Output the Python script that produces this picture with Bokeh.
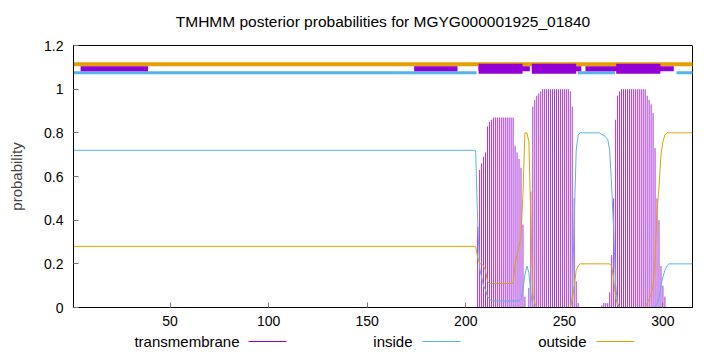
from bokeh.plotting import figure
from bokeh.models import Range1d, FixedTicker, ColumnDataSource, PrintfTickFormatter
from bokeh.core.properties import value
from bokeh.layouts import column
from bokeh.embed import file_html
from bokeh.resources import INLINE

# ---------------- data ----------------
title_text = "TMHMM posterior probabilities for MGYG000001925_01840"
seq_len = 315
x_ticks = [50, 100, 150, 200, 250, 300]
y_ticks = [0, 0.2, 0.4, 0.6, 0.8, 1.0, 1.2]

# residues 1..204 are flat; explicit per-residue values from 205 onward
flat_start = 1
flat_inside = 0.72
flat_outside = 0.28
detail_start = 205

tm_detail = [
    0.00, 0.37, 0.63, 0.66, 0.69, 0.71, 0.83, 0.85, 0.86, 0.87,   # 205-214
    0.87, 0.87, 0.87, 0.87, 0.87, 0.87, 0.87, 0.87, 0.87, 0.87,   # 215-224
    0.74, 0.71, 0.68, 0.64, 0.38, 0.05, 0.00, 0.09, 0.53, 0.92,   # 225-234
    0.95, 0.97, 0.98, 0.99, 1.00, 1.00, 1.00, 1.00, 1.00, 1.00,   # 235-244
    1.00, 1.00, 1.00, 1.00, 1.00, 1.00, 1.00, 1.00, 0.99, 0.92,   # 245-254
    0.50, 0.12, 0.02, 0.00, 0.00, 0.00, 0.00, 0.00, 0.00, 0.00,   # 255-264
    0.00, 0.00, 0.00, 0.00, 0.01, 0.02, 0.02, 0.02, 0.07, 0.24,   # 265-274
    0.50, 0.86, 0.97, 0.99, 1.00, 1.00, 1.00, 1.00, 1.00, 1.00,   # 275-284
    1.00, 1.00, 1.00, 1.00, 1.00, 1.00, 1.00, 0.97, 0.95, 0.93,   # 285-294
    0.89, 0.73, 0.50, 0.40, 0.19, 0.10, 0.05, 0.00, 0.00, 0.00,   # 295-304
    0.00, 0.00, 0.00, 0.00, 0.00, 0.00, 0.00, 0.00, 0.00, 0.00,   # 305-314
    0.00,                                                         # 315
]
inside_detail = [
    0.72, 0.40, 0.18, 0.14, 0.10, 0.08, 0.05, 0.04, 0.03, 0.03,   # 205-214
    0.03, 0.03, 0.03, 0.03, 0.03, 0.03, 0.03, 0.03, 0.03, 0.03,   # 215-224
    0.03, 0.03, 0.03, 0.04, 0.08, 0.15, 0.19, 0.16, 0.06, 0.01,   # 225-234
    0.00, 0.00, 0.00, 0.00, 0.00, 0.00, 0.00, 0.00, 0.00, 0.00,   # 235-244
    0.00, 0.00, 0.00, 0.00, 0.00, 0.00, 0.00, 0.00, 0.00, 0.05,   # 245-254
    0.40, 0.72, 0.79, 0.80, 0.80, 0.80, 0.80, 0.80, 0.80, 0.80,   # 255-264
    0.80, 0.80, 0.80, 0.80, 0.79, 0.79, 0.78, 0.77, 0.72, 0.55,   # 265-274
    0.36, 0.10, 0.02, 0.00, 0.00, 0.00, 0.00, 0.00, 0.00, 0.00,   # 275-284
    0.00, 0.00, 0.00, 0.00, 0.00, 0.00, 0.00, 0.00, 0.00, 0.00,   # 285-294
    0.00, 0.00, 0.02, 0.04, 0.10, 0.14, 0.17, 0.19, 0.20, 0.20,   # 295-304
    0.20, 0.20, 0.20, 0.20, 0.20, 0.20, 0.20, 0.20, 0.20, 0.20,   # 305-314
    0.20,                                                         # 315
]
outside_detail = [
    0.28, 0.23, 0.20, 0.20, 0.19, 0.17, 0.12, 0.11, 0.11, 0.11,   # 205-214
    0.11, 0.11, 0.11, 0.11, 0.11, 0.11, 0.11, 0.11, 0.11, 0.11,   # 215-224
    0.20, 0.24, 0.28, 0.33, 0.52, 0.80, 0.80, 0.76, 0.40, 0.06,   # 225-234
    0.02, 0.00, 0.00, 0.00, 0.00, 0.00, 0.00, 0.00, 0.00, 0.00,   # 235-244
    0.00, 0.00, 0.00, 0.00, 0.00, 0.00, 0.00, 0.00, 0.00, 0.03,   # 245-254
    0.10, 0.17, 0.19, 0.20, 0.20, 0.20, 0.20, 0.20, 0.20, 0.20,   # 255-264
    0.20, 0.20, 0.20, 0.20, 0.20, 0.20, 0.20, 0.20, 0.20, 0.19,   # 265-274
    0.13, 0.05, 0.01, 0.00, 0.00, 0.00, 0.00, 0.00, 0.00, 0.00,   # 275-284
    0.00, 0.00, 0.00, 0.00, 0.00, 0.00, 0.00, 0.02, 0.04, 0.06,   # 285-294
    0.10, 0.22, 0.44, 0.55, 0.70, 0.76, 0.79, 0.80, 0.80, 0.80,   # 295-304
    0.80, 0.80, 0.80, 0.80, 0.80, 0.80, 0.80, 0.80, 0.80, 0.80,   # 305-314
    0.80,                                                         # 315
]

# predicted topology bars drawn above the curves
tm_bar_start = [4.6, 173.8, 206.5, 233.5, 260.7]
tm_bar_end = [38.8, 195.8, 232.5, 258.6, 305.5]
tm_core_start = [206.5, 233.5, 276.3]
tm_core_end = [228.8, 256.0, 298.7]
inside_bar_start = [1, 256.8, 306.9]
inside_bar_end = [205.5, 275.6, 329]
outside_bar_start = [1]
outside_bar_end = [329]
outside_bar_y = 1.114
tm_bar_y = 1.093
inside_bar_y = 1.075

series_names = ["transmembrane", "inside", "outside"]

# ---------------- styling ----------------
FONT = "Liberation Sans"
C_TM = "#9400D3"
C_IN = "#56B4E9"
C_OUT = "#E69F00"
series_colors = [C_TM, C_IN, C_OUT]

W = 720
TITLE_H = 33
MAIN_H = 300
KEY_H = 19
FRAME_LEFT, FRAME_RIGHT_PAD = 73, 28
FRAME_RIGHT = W - FRAME_RIGHT_PAD

residues = list(range(detail_start, detail_start + len(tm_detail)))
line_x = [flat_start] + residues
line_in = [flat_inside] + inside_detail
line_out = [flat_outside] + outside_detail


def strip(h):
    # the column layout aligns this strip's frame with the chart frame,
    # so its x range is expressed in page pixels of that frame
    f = figure(width=W, height=h, x_range=Range1d(FRAME_LEFT, FRAME_RIGHT),
               y_range=Range1d(0, h),
               x_axis_type=None, y_axis_type=None,
               output_backend="svg", toolbar_location=None,
               min_border=0, min_border_left=FRAME_LEFT, min_border_right=FRAME_RIGHT_PAD,
               min_border_top=0, min_border_bottom=0)
    f.grid.visible = False
    f.outline_line_color = None
    f.background_fill_color = "white"
    f.border_fill_color = "white"
    return f


# ---- title strip ----
t = strip(TITLE_H)
t.text(x=[(FRAME_LEFT + FRAME_RIGHT) / 2], y=[TITLE_H - 21], text=[title_text],
       text_align="center", text_baseline="middle", text_font=value(FONT),
       text_font_size="15.5px", text_color="black")

# ---- main chart ----
p = figure(width=W, height=MAIN_H,
           x_range=Range1d(1, seq_len), y_range=Range1d(0, 1.2),
           output_backend="svg", toolbar_location=None,
           min_border_left=FRAME_LEFT, min_border_right=FRAME_RIGHT_PAD,
           min_border_top=12, min_border_bottom=26)
p.background_fill_color = "white"
p.border_fill_color = "white"
p.grid.visible = False
p.outline_line_color = "black"
p.outline_line_width = 1

xa = p.xaxis[0]
xa.ticker = FixedTicker(ticks=x_ticks)
ya = p.yaxis[0]
ya.ticker = FixedTicker(ticks=y_ticks)
ya.formatter = PrintfTickFormatter(format="%g")
ya.axis_label = "probability"
ya.axis_label_text_font = FONT
ya.axis_label_text_font_size = "15px"
ya.axis_label_text_font_style = "normal"
ya.axis_label_standoff = 16
for ax in (xa, ya):
    ax.major_tick_in = 5
    ax.major_tick_out = 0
    ax.minor_tick_line_color = None
    ax.major_tick_line_color = "#777777"
    ax.axis_line_color = "black"
    ax.major_label_text_font = FONT
    ax.major_label_text_font_size = "14px"
    ax.major_label_text_color = "black"
xa.major_label_standoff = 8
ya.major_label_standoff = 10

# posterior curves
src_tm = ColumnDataSource(dict(x=residues, y=tm_detail))
p.segment(x0="x", y0=0, x1="x", y1="y", source=src_tm,
          line_color=C_TM, line_width=1, line_alpha=0.8)
p.line(line_x, line_in, line_color=C_IN, line_width=1)
p.line(line_x, line_out, line_color=C_OUT, line_width=1)

# topology bars
p.segment(x0=outside_bar_start, x1=outside_bar_end,
          y0=[outside_bar_y] * len(outside_bar_start), y1=[outside_bar_y] * len(outside_bar_start),
          line_color=C_OUT, line_width=4)
p.segment(x0=inside_bar_start, x1=inside_bar_end,
          y0=[inside_bar_y] * len(inside_bar_start), y1=[inside_bar_y] * len(inside_bar_start),
          line_color=C_IN, line_width=3)
p.segment(x0=tm_bar_start, x1=tm_bar_end,
          y0=[tm_bar_y] * len(tm_bar_start), y1=[tm_bar_y] * len(tm_bar_start),
          line_color=C_TM, line_width=5)
p.segment(x0=tm_core_start, x1=tm_core_end,
          y0=[tm_bar_y] * len(tm_core_start), y1=[tm_bar_y] * len(tm_core_start),
          line_color=C_TM, line_width=10)

# ---- key strip (gnuplot style: text, then sample line) ----
key_text_right = [239, 412, 586]
key_line_start = [248, 422, 596]
key_line_len = 38
key_y = 11
k = strip(KEY_H)
key_src = ColumnDataSource(dict(
    tx=key_text_right, lx0=key_line_start,
    lx1=[s + key_line_len for s in key_line_start],
    y=[key_y] * 3, name=series_names, color=series_colors))
k.text(x="tx", y="y", text="name", source=key_src, text_align="right",
       text_baseline="middle", text_font=value(FONT), text_font_size="15px",
       text_color="black")
k.segment(x0="lx0", x1="lx1", y0="y", y1="y", source=key_src,
          line_color="color", line_width=1)

layout = column(t, p, k, spacing=0)
open("out.html", "w").write(file_html(layout, INLINE))
